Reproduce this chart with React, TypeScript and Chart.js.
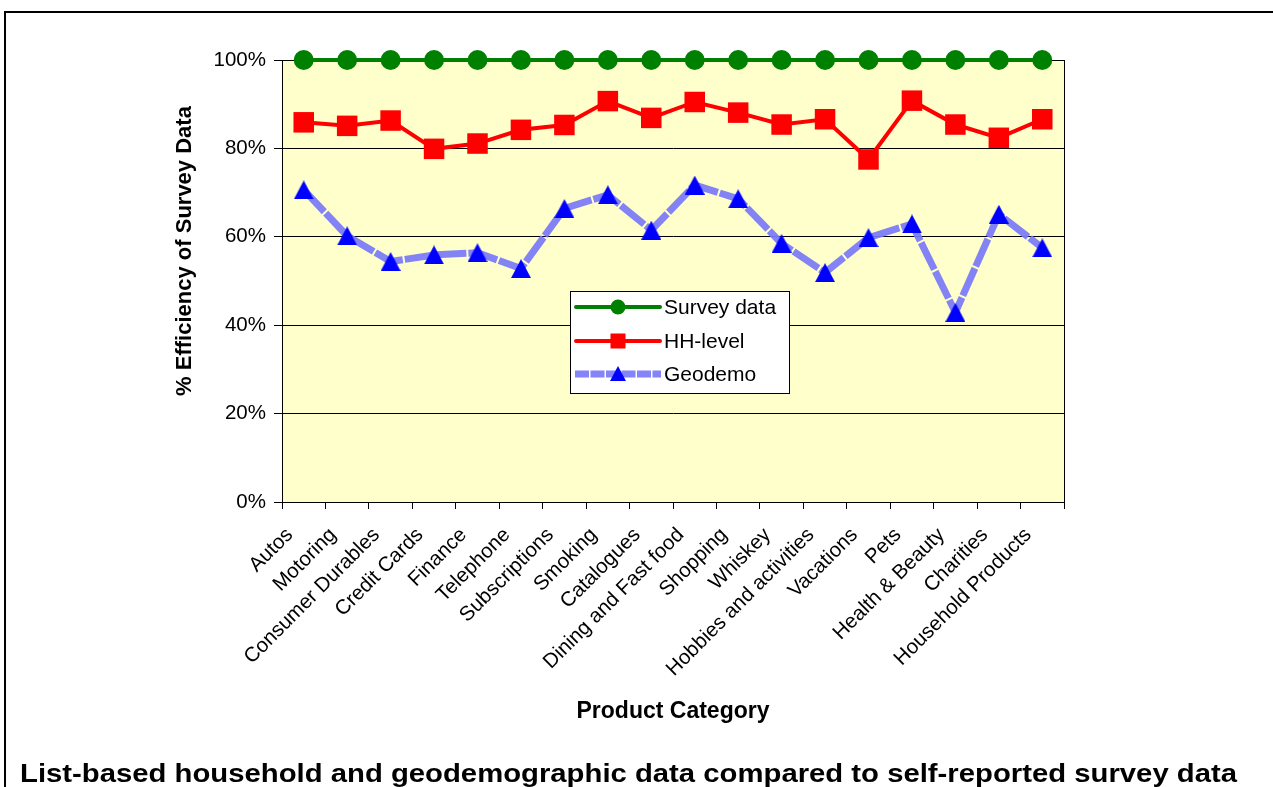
import React, { useEffect, useRef } from 'react';
import { Chart, registerables } from 'chart.js';

Chart.register(...registerables);

const categories = [
  'Autos', 'Motoring', 'Consumer Durables', 'Credit Cards', 'Finance', 'Telephone',
  'Subscriptions', 'Smoking', 'Catalogues', 'Dining and Fast food', 'Shopping', 'Whiskey',
  'Hobbies and activities', 'Vacations', 'Pets', 'Health & Beauty', 'Charities', 'Household Products',
];
const surveyData = [100, 100, 100, 100, 100, 100, 100, 100, 100, 100, 100, 100, 100, 100, 100, 100, 100, 100];
const hhLevel = [85.9, 85.1, 86.3, 79.9, 81.1, 84.2, 85.3, 90.7, 86.9, 90.5, 88.1, 85.4, 86.6, 77.5, 90.8, 85.4, 82.4, 86.6];
const geodemo = [70.6, 60.2, 54.4, 55.9, 56.4, 52.8, 66.4, 69.5, 61.5, 71.7, 68.6, 58.5, 51.9, 59.8, 62.9, 42.9, 65.1, 57.5];
const seriesNames = ['Survey data', 'HH-level', 'Geodemo'];
const yTickValues = [0, 20, 40, 60, 80, 100];

const xTitle = 'Product Category';
const yTitle = '% Efficiency of Survey Data';
const caption = 'List-based household and geodemographic data compared to self-reported survey data';

const FONT = '"Liberation Sans", Arial, sans-serif';
const GREEN = '#008000';
const RED = '#ff0000';
const BLUE = '#0000ff';
const BLUE_LINE = 'rgba(120,120,250,0.92)';

function makeTriangle(w: number, h: number): HTMLCanvasElement {
  const c = document.createElement('canvas');
  c.width = w;
  c.height = h;
  const g = c.getContext('2d')!;
  g.fillStyle = BLUE;
  g.beginPath();
  g.moveTo(w / 2, 0);
  g.lineTo(w, h);
  g.lineTo(0, h);
  g.closePath();
  g.fill();
  return c;
}

function stretchedText(ctx: CanvasRenderingContext2D, text: string, x: number, y: number, width: number) {
  const m = ctx.measureText(text).width;
  ctx.save();
  ctx.translate(x, y);
  ctx.scale(width / m, 1);
  ctx.fillText(text, 0, 0);
  ctx.restore();
}

const decorPlugin = {
  id: 'decor',
  beforeDraw(chart: any) {
    const { ctx, chartArea: a } = chart;
    ctx.save();
    ctx.fillStyle = '#ffffcc';
    ctx.fillRect(a.left, a.top, a.right - a.left, a.bottom - a.top);
    ctx.restore();
  },
  beforeDatasetsDraw(chart: any) {
    const { ctx, chartArea: a } = chart;
    ctx.save();
    ctx.strokeStyle = '#000';
    ctx.lineWidth = 1;
    ctx.strokeRect(Math.round(a.left) + 0.5, Math.round(a.top) + 0.5, Math.round(a.right - a.left), Math.round(a.bottom - a.top));
    ctx.restore();
  },
  afterDraw(chart: any) {
    const { ctx } = chart;
    ctx.save();
    // outer frame
    ctx.strokeStyle = '#000';
    ctx.lineWidth = 2;
    ctx.beginPath();
    ctx.moveTo(5, 800);
    ctx.lineTo(5, 12);
    ctx.lineTo(1290, 12);
    ctx.stroke();

    // y title
    ctx.fillStyle = '#000';
    ctx.font = `bold 22px ${FONT}`;
    ctx.textAlign = 'center';
    ctx.textBaseline = 'middle';
    ctx.save();
    ctx.translate(185, 251);
    ctx.rotate(-Math.PI / 2);
    ctx.fillText(yTitle, 0, 0);
    ctx.restore();

    // x title
    ctx.font = `bold 23px ${FONT}`;
    ctx.fillText(xTitle, 673, 712);

    // caption
    ctx.font = `bold 26px ${FONT}`;
    ctx.textAlign = 'left';
    ctx.textBaseline = 'alphabetic';
    stretchedText(ctx, caption, 20, 782, 1217);

    // legend
    const lx = 570.5, ly = 291.5, lw = 219, lh = 102;
    ctx.fillStyle = '#fff';
    ctx.fillRect(lx, ly, lw, lh);
    ctx.strokeStyle = '#000';
    ctx.lineWidth = 1;
    ctx.strokeRect(lx, ly, lw, lh);
    const rows = [307, 341, 374];
    const x0 = 576, x1 = 660, mx = 618;
    ctx.lineCap = 'round';
    ctx.strokeStyle = GREEN;
    ctx.lineWidth = 4;
    ctx.beginPath(); ctx.moveTo(x0, rows[0]); ctx.lineTo(x1, rows[0]); ctx.stroke();
    ctx.fillStyle = GREEN;
    ctx.beginPath(); ctx.arc(mx, rows[0], 7.5, 0, Math.PI * 2); ctx.fill();
    ctx.strokeStyle = RED;
    ctx.beginPath(); ctx.moveTo(x0, rows[1]); ctx.lineTo(x1, rows[1]); ctx.stroke();
    ctx.fillStyle = RED;
    ctx.fillRect(mx - 7.5, rows[1] - 7.5, 15, 15);
    ctx.lineCap = 'butt';
    ctx.strokeStyle = BLUE_LINE;
    ctx.lineWidth = 7;
    ctx.setLineDash([14, 1.5]);
    ctx.beginPath(); ctx.moveTo(x0 - 1, rows[2]); ctx.lineTo(x1 + 1, rows[2]); ctx.stroke();
    ctx.setLineDash([]);
    ctx.fillStyle = BLUE;
    ctx.beginPath(); ctx.moveTo(mx, rows[2] - 8); ctx.lineTo(mx + 8, rows[2] + 7); ctx.lineTo(mx - 8, rows[2] + 7); ctx.closePath(); ctx.fill();
    ctx.fillStyle = '#000';
    ctx.font = `21px ${FONT}`;
    ctx.textAlign = 'left';
    ctx.textBaseline = 'middle';
    seriesNames.forEach((n, i) => ctx.fillText(n, 664, rows[i] + 1));
    ctx.restore();
  },
};

export default function App() {
  const ref = useRef<HTMLCanvasElement>(null);
  useEffect(() => {
    if (!ref.current) return;
    const tri = makeTriangle(20, 19);
    const chart = new Chart(ref.current, {
      type: 'line',
      data: {
        labels: categories,
        datasets: [
          {
            label: seriesNames[2],
            data: geodemo,
            borderColor: BLUE_LINE,
            borderWidth: 7,
            borderDash: [30, 2],
            pointStyle: tri as any,
            pointRadius: 10,
            pointBackgroundColor: BLUE,
            pointBorderWidth: 0,
            tension: 0,
            clip: false,
            order: 3,
          },
          {
            label: seriesNames[1],
            data: hhLevel,
            borderColor: RED,
            borderWidth: 4,
            pointStyle: 'rect',
            pointRadius: 14.5,
            pointBackgroundColor: RED,
            pointBorderColor: RED,
            pointBorderWidth: 0,
            tension: 0,
            clip: false,
            order: 2,
          },
          {
            label: seriesNames[0],
            data: surveyData,
            borderColor: GREEN,
            borderWidth: 4,
            pointStyle: 'circle',
            pointRadius: 10,
            pointBackgroundColor: GREEN,
            pointBorderColor: GREEN,
            pointBorderWidth: 0,
            tension: 0,
            clip: false,
            order: 1,
          },
        ],
      },
      options: {
        responsive: false,
        animation: false,
        devicePixelRatio: 1,
        layout: { padding: { left: 0, top: 60, right: 209, bottom: 0 } },
        plugins: { legend: { display: false }, tooltip: { enabled: false }, title: { display: false } },
        scales: {
          x: {
            type: 'category',
            offset: true,
            grid: { offset: true, drawOnChartArea: false, color: '#000', tickLength: 7, tickColor: '#000' },
            border: { display: true, color: '#000', width: 1 },
            ticks: {
              autoSkip: false,
              maxRotation: 45,
              minRotation: 45,
              color: '#000',
              font: { family: FONT, size: 20.5 },
              padding: 14,
              labelOffset: -14,
            },
            afterFit(scale: any) { scale.height = 285; },
          },
          y: {
            min: 0,
            max: 100,
            afterBuildTicks(scale: any) { scale.ticks = yTickValues.map((v) => ({ value: v })); },
            grid: { color: '#000', lineWidth: 1, tickLength: 8, tickColor: '#000' },
            border: { display: true, color: '#000', width: 1 },
            ticks: {
              color: '#000',
              font: { family: FONT, size: 20.5 },
              padding: 8,
              callback: (v: any) => `${v}%`,
            },
            afterFit(scale: any) { scale.width = 282; },
          },
        },
      },
      plugins: [decorPlugin],
    });
    return () => chart.destroy();
  }, []);
  return (
    <div style={{ position: 'absolute', left: 0, top: 0, width: 1273, height: 787, background: '#fff' }}>
      <canvas ref={ref} width={1273} height={787} style={{ display: 'block' }} />
    </div>
  );
}
